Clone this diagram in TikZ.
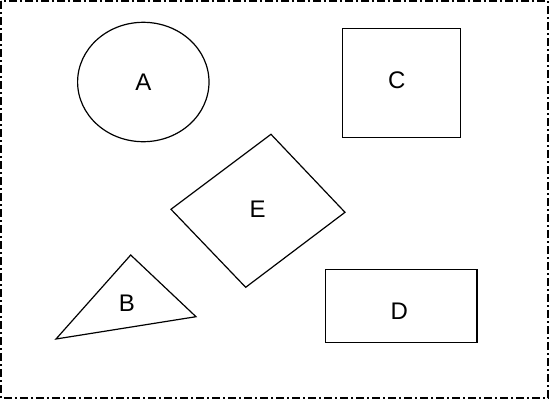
\documentclass[tikz,border=0pt]{standalone}
\usepackage{fontspec}
\setmainfont{Liberation Sans}
\begin{document}
\begin{tikzpicture}[x=1pt,y=-1pt,
  shapeline/.style={draw=black,line width=1.2pt,line join=miter},
  lbl/.style={inner sep=0pt,font=\fontsize{24}{28}\selectfont},
  frame/.style={draw=black,line width=1.5pt,dash pattern=on 8pt off 3pt on 2pt off 3pt}]
\useasboundingbox (0,0) rectangle (550,400);
\draw[frame] (1,1) rectangle (548,398);
% A ellipse
\draw[shapeline] (143.3,82) ellipse [x radius=65.7, y radius=59.7];
\node[lbl] (A) at (143.5,82) {A};
% C square
\draw[shapeline] (342.3,28.3) rectangle (460.3,137.7);
\node[lbl] (C) at (396.7,80) {C};
% E diamond
\draw[shapeline] (271,134.3) -- (345,212.3) -- (245.7,287.3) -- (171,209.3) -- cycle;
\node[lbl] (E) at (257.7,209.3) {E};
% B triangle
\draw[shapeline] (130.7,255) -- (196,316.7) -- (56,339) -- cycle;
\node[lbl] (B) at (127,303) {B};
% D rectangle
\draw[shapeline] (325.3,269.7) rectangle (477,342.3);
\node[lbl] (D) at (399.3,311) {D};
\end{tikzpicture}
\end{document}
